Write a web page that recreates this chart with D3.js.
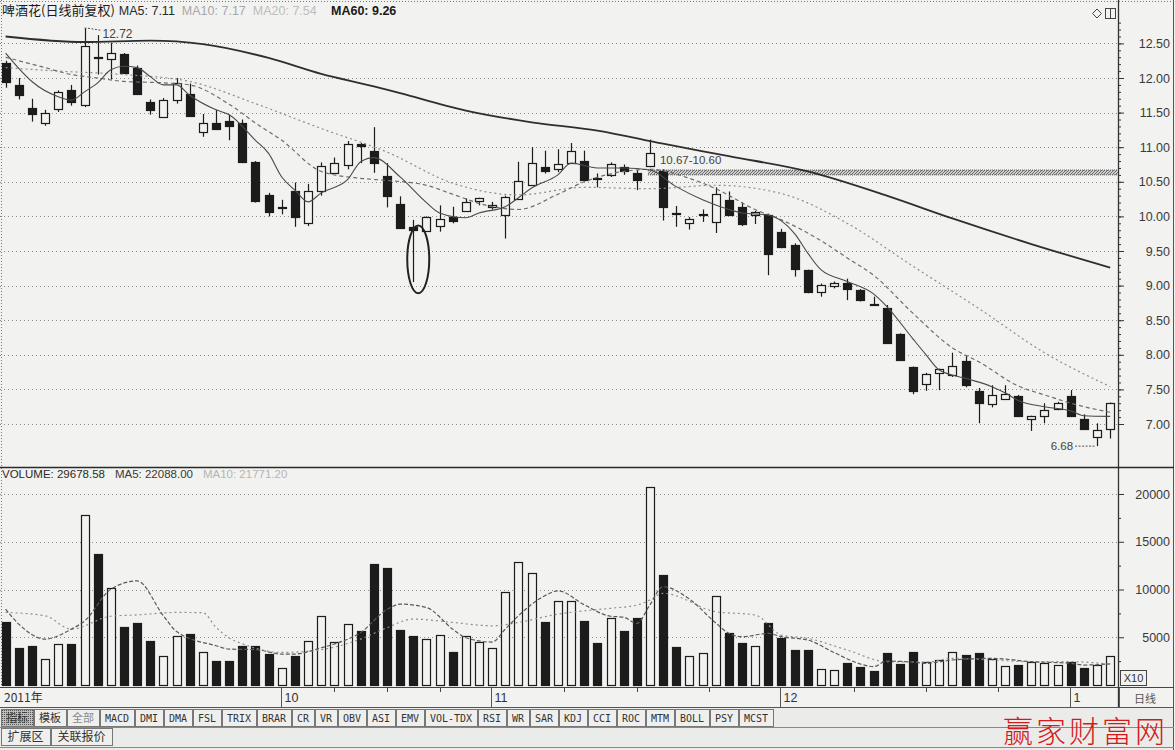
<!DOCTYPE html>
<html><head><meta charset="utf-8">
<script src="https://cdn.jsdelivr.net/npm/d3@7/dist/d3.min.js"></script>
<style>
html,body{margin:0;padding:0;background:#f2f2f0;}
svg{display:block;}
</style></head><body>
<svg id="chart" width="1175" height="750"></svg>
<script>
// ---------------- DATA ----------------
const dates = [
"2011-09-01","2011-09-02","2011-09-05","2011-09-06","2011-09-07","2011-09-08","2011-09-09","2011-09-13","2011-09-14","2011-09-15","2011-09-16","2011-09-19","2011-09-20","2011-09-21","2011-09-22","2011-09-23","2011-09-26","2011-09-27","2011-09-28","2011-09-29","2011-09-30",
"2011-10-10","2011-10-11","2011-10-12","2011-10-13","2011-10-14","2011-10-17","2011-10-18","2011-10-19","2011-10-20","2011-10-21","2011-10-24","2011-10-25","2011-10-26","2011-10-27","2011-10-28","2011-10-31",
"2011-11-01","2011-11-02","2011-11-03","2011-11-04","2011-11-07","2011-11-08","2011-11-09","2011-11-10","2011-11-11","2011-11-14","2011-11-15","2011-11-16","2011-11-17","2011-11-18","2011-11-21","2011-11-22","2011-11-23","2011-11-24","2011-11-25","2011-11-28","2011-11-29","2011-11-30",
"2011-12-01","2011-12-02","2011-12-05","2011-12-06","2011-12-07","2011-12-08","2011-12-09","2011-12-12","2011-12-13","2011-12-14","2011-12-15","2011-12-16","2011-12-19","2011-12-20","2011-12-21","2011-12-22","2011-12-23","2011-12-26","2011-12-27","2011-12-28","2011-12-29","2011-12-30",
"2012-01-04","2012-01-05","2012-01-06","2012-01-09"];

const openP  = [12.21,11.90,11.56,11.35,11.55,11.82,11.61,12.30,12.27,12.34,12.15,11.66,11.44,11.68,11.77,11.22,11.35,11.38,11.35,10.79,10.31,
10.11,10.37,9.91,10.37,10.63,10.74,11.05,10.95,10.58,10.18,9.84,9.79,9.86,9.99,10.08,10.21,
10.13,10.02,10.25,10.45,10.72,10.69,10.78,10.80,10.56,10.60,10.72,10.62,10.72,10.65,10.05,9.90,10.01,9.92,10.24,10.13,10.02,10.02,
9.78,9.58,9.22,8.91,8.99,9.04,8.93,8.74,8.67,8.30,7.82,7.58,7.73,7.71,7.91,7.47,7.29,7.36,7.40,7.07,7.11,7.21,
7.40,7.07,6.82,6.92];
const highP  = [12.25,12.00,11.70,11.54,11.82,11.90,12.72,12.62,12.51,12.36,12.18,11.69,11.71,12.00,11.92,11.48,11.54,11.47,11.40,10.80,10.34,
10.24,10.49,10.47,10.78,10.85,11.09,11.06,11.29,10.77,10.29,9.95,10.00,10.16,10.14,10.26,10.27,
10.21,10.30,10.79,11.00,10.95,10.97,11.06,10.95,10.62,10.78,10.75,10.67,11.11,10.68,10.15,9.99,10.10,10.42,10.36,10.20,10.08,10.04,
9.82,9.61,9.23,9.03,9.06,9.10,8.95,8.84,8.72,8.31,7.83,7.74,7.80,8.03,7.98,7.52,7.56,7.56,7.42,7.12,7.30,7.32,
7.49,7.14,7.01,7.31];
const lowP   = [11.86,11.69,11.37,11.31,11.51,11.60,11.58,12.05,11.98,12.06,11.76,11.47,11.43,11.63,11.44,11.15,11.26,11.10,10.77,10.20,10.00,
10.03,9.85,9.86,10.30,10.62,10.68,10.77,10.63,10.13,9.82,9.05,9.78,9.78,9.90,10.07,10.16,
10.10,9.68,10.24,10.44,10.62,10.64,10.77,10.52,10.42,10.57,10.60,10.38,10.71,9.94,9.85,9.81,9.92,9.76,10.02,9.86,9.89,9.15,
9.54,9.13,8.89,8.84,8.96,8.79,8.77,8.71,8.16,7.91,7.43,7.48,7.49,7.68,7.53,7.01,7.24,7.35,7.10,6.90,7.01,7.20,
7.10,6.92,6.68,6.79];
const closeP = [11.93,11.75,11.47,11.49,11.80,11.64,12.46,12.28,12.36,12.07,11.77,11.54,11.68,11.93,11.45,11.35,11.27,11.31,10.79,10.22,10.07,
10.13,10.00,10.37,10.73,10.77,11.04,11.02,10.77,10.29,9.83,9.79,9.99,9.96,9.93,10.21,10.26,
10.16,10.28,10.51,10.77,10.66,10.76,10.95,10.53,10.54,10.76,10.66,10.52,10.91,10.13,10.03,9.96,10.03,10.32,10.03,9.88,10.07,9.46,
9.56,9.24,8.90,9.01,9.04,8.95,8.78,8.72,8.17,7.93,7.47,7.72,7.79,7.84,7.56,7.30,7.42,7.43,7.11,7.11,7.20,7.30,
7.11,6.92,6.92,7.30];
const volume = [6550,3830,4040,2720,4290,4290,17770,13760,10170,6060,6480,4600,3070,5090,5330,3410,2540,2540,4110,4040,3240,
1780,3070,4630,7250,4460,6380,5610,12650,12300,5780,5160,4810,5260,3410,5160,4530,
3830,9760,12930,11780,6550,8820,8820,6750,4430,6980,5690,6980,20690,11510,4010,3040,3380,9350,5410,4360,4080,6460,
4890,3660,3660,1670,1570,2270,1920,1500,3310,2200,3420,2440,2620,3490,3140,3350,2720,2020,2090,2440,2300,2090,
2440,1750,2090,3000];

// moving-average curves: day index -> value
const ma5Days  = [0,1,2,4,5,6,7,8,9,10,11,12,13,14,16,17,19,20,21,22,23,24,26,27,28,30,32,33,35,36,38,39,40,42,43,45,47,49,51,53,55,56,58,60,61,62,64,66,67,69,70,71,73,75,76,77,79,81,82,84];
const ma5Vals  = [12.36,12.14,11.95,11.73,11.68,11.80,11.93,12.12,12.17,12.15,12.02,11.90,11.90,11.75,11.54,11.47,11.10,10.91,10.57,10.38,10.21,10.34,10.53,10.79,10.85,10.57,10.20,10.05,9.98,10.05,10.14,10.27,10.41,10.60,10.77,10.70,10.70,10.67,10.43,10.24,10.10,10.05,10.02,9.75,9.47,9.23,9.06,8.88,8.70,8.23,8.00,7.78,7.66,7.54,7.45,7.34,7.25,7.19,7.12,7.11];
const ma10Days = [0,3,5,7,9,12,14,17,19,21,24,27,29,32,34,37,39,42,44,47,49,52,54,57,59,62,64,66,69,72,74,77,79,82,84];
const ma10Vals = [12.30,12.15,12.05,12.00,11.95,11.93,11.90,11.62,11.35,11.10,10.65,10.55,10.52,10.45,10.32,10.14,10.10,10.32,10.50,10.65,10.68,10.55,10.40,10.10,9.95,9.65,9.40,9.15,8.60,8.10,7.90,7.55,7.42,7.25,7.17];
const ma20Days = [0,4,9,14,19,24,29,34,39,44,49,54,59,64,69,74,79,84];
const ma20Vals = [12.15,12.10,12.05,11.95,11.63,11.27,10.93,10.48,10.31,10.42,10.40,10.45,10.33,9.90,9.28,8.67,8.03,7.54];
const ma60Days = [0,6,11,15,20,24,28,30,35,40,45,50,55,61,67,72,78,84];
const ma60Vals = [12.60,12.52,12.54,12.49,12.29,12.06,11.88,11.78,11.53,11.36,11.24,11.05,10.87,10.65,10.30,9.97,9.60,9.26];
const volMa5Days  = [0,1,3,5,6,8,10,12,13,16,17,19,21,22,24,25,27,29,30,32,34,35,37,38,39,41,42,44,46,47,48,49,50,52,54,55,56,58,59,61,63,65,66,67,69,70,72,75,78,81,82,84];
const volMa5Vals  = [7940,6380,4810,5850,6700,10030,10900,7250,5600,4110,3760,3700,3240,3240,3900,4290,5500,7900,8470,8120,5850,4950,4500,5850,7250,9340,9860,8400,7200,7100,6460,8400,10290,9000,6500,5410,5060,5400,5060,4710,3400,2200,1920,2500,2400,2270,2620,2790,2440,2270,2090,2209];
const volMa10Days = [0,3,5,8,10,13,15,16,17,18,21,24,27,29,31,34,37,39,42,44,46,48,49,50,54,57,59,61,64,67,70,72,75,78,81,84];
const volMa10Vals = [7600,7250,5850,7200,7340,7600,7570,6050,4930,4320,3410,3700,4810,6000,6900,6550,6200,6550,7420,7770,8030,8370,8900,9600,7680,7330,5230,4890,3660,2440,2400,2790,2620,2440,2440,2177];

const priceTicks = [7.00,7.50,8.00,8.50,9.00,9.50,10.00,10.50,11.00,11.50,12.00,12.50];
const volTicks = [5000,10000,15000,20000];
const maxMark = {day:6, value:12.72};
const minMark = {day:83, value:6.68};
const bandLevels = [10.67,10.60];
const bandStartDay = 49;
const circledDay = 31;
const titleName = "啤酒花(日线前复权)";
const priceLegend = [["MA5: 7.11","#2a2a2a"],["MA10: 7.17","#a8a8a8"],["MA20: 7.54","#bdbdbd"]];
const ma60Legend = "MA60: 9.26";
const volLegend = [["VOLUME: 29678.58","#2a2a2a"],["MA5: 22088.00","#3a3a3a"],["MA10: 21771.20","#b5b5b5"]];
const tabLabels = ["指标","模板","全部","MACD","DMI","DMA","FSL","TRIX","BRAR","CR","VR","OBV","ASI","EMV","VOL-TDX","RSI","WR","SAR","KDJ","CCI","ROC","MTM","BOLL","PSY","MCST"];
const tabLabels2 = ["扩展区","关联报价"];
const periodLabel = "日线";
const volUnit = "X10";
const watermark = "赢家财富网";

// ---------------- DRAW ----------------
const svg = d3.select("#chart");
const BG = "#f2f2f0", INK = "#1c1c1c";
const AX = 1118;              // right axis x
const N = dates.length;
const CJK = "'Noto Sans CJK SC','Noto Sans',sans-serif";
const LAT = "'Liberation Sans',Arial,sans-serif";

const x  = d3.scaleLinear().domain([0, N-1]).range([5.6, 1110.2]);
const y  = d3.scaleLinear().domain([7, 12.5]).range([424, 43.4]);
const yv = d3.scaleLinear().domain([0, 20000]).range([685, 494]);

svg.append("rect").attr("width",1175).attr("height",750).attr("fill",BG);

const defs = svg.append("defs");
defs.append("clipPath").attr("id","clipP").append("rect").attr("x",0).attr("y",18).attr("width",AX).attr("height",449);
defs.append("clipPath").attr("id","clipV").append("rect").attr("x",0).attr("y",482).attr("width",AX).attr("height",205);
const hp = defs.append("pattern").attr("id","hatch").attr("patternUnits","userSpaceOnUse").attr("width",3).attr("height",3);
hp.append("rect").attr("width",3).attr("height",3).attr("fill","#cfcfcf");
hp.append("path").attr("d","M0,3L3,0").attr("stroke","#6a6a6a").attr("stroke-width",1);
const tp = defs.append("pattern").attr("id","tabhatch").attr("patternUnits","userSpaceOnUse").attr("width",2).attr("height",2);
tp.append("rect").attr("width",2).attr("height",2).attr("fill","#bdbdbd");
tp.append("rect").attr("width",1).attr("height",1).attr("fill","#555");

// frame lines
svg.append("line").attr("x1",0).attr("x2",1173).attr("y1",1.5).attr("y2",1.5).attr("stroke","#777").attr("stroke-dasharray","1,2");
svg.append("line").attr("x1",1.5).attr("x2",1.5).attr("y1",0).attr("y2",687).attr("stroke","#777").attr("stroke-dasharray","1,2");
svg.append("line").attr("x1",AX+.5).attr("x2",AX+.5).attr("y1",0).attr("y2",708).attr("stroke","#333").attr("stroke-width",1.3);
svg.append("line").attr("x1",1173.5).attr("x2",1173.5).attr("y1",0).attr("y2",750).attr("stroke","#555");
svg.append("line").attr("x1",0).attr("x2",1174).attr("y1",467.5).attr("y2",467.5).attr("stroke","#2a2a2a").attr("stroke-width",1.6);
svg.append("line").attr("x1",0).attr("x2",1174).attr("y1",687.5).attr("y2",687.5).attr("stroke","#444");
svg.append("line").attr("x1",0).attr("x2",1174).attr("y1",707.5).attr("y2",707.5).attr("stroke","#555");

// grid
svg.append("g").selectAll("line").data(priceTicks).join("line")
  .attr("x1",0).attr("x2",AX).attr("y1",d=>Math.round(y(d))+.5).attr("y2",d=>Math.round(y(d))+.5)
  .attr("stroke","#8c8c8c").attr("stroke-dasharray","1,3");
svg.append("g").selectAll("line").data(volTicks).join("line")
  .attr("x1",0).attr("x2",AX).attr("y1",d=>Math.round(yv(d))+.5).attr("y2",d=>Math.round(yv(d))+.5)
  .attr("stroke","#8c8c8c").attr("stroke-dasharray","1,3");

// axes
function styleAxis(g){
  g.select(".domain").remove();
  g.selectAll("line").attr("stroke","#333");
  g.selectAll("text").attr("text-anchor","end").attr("x",52).attr("fill","#3a3a3a")
   .style("font-family",LAT).style("font-size","12.5px");
}
const minorP = d3.range(70,129).map(v=>v/10);
svg.append("g").attr("transform",`translate(${AX},0)`).call(d3.axisRight(y).tickValues(minorP).tickSize(3).tickFormat("")).call(styleAxis);
svg.append("g").attr("transform",`translate(${AX},0)`).call(d3.axisRight(y).tickValues(priceTicks).tickSize(6).tickFormat(d3.format(".2f"))).call(styleAxis);
svg.append("g").attr("transform",`translate(${AX},0)`).call(d3.axisRight(yv).tickValues([2500,7500,12500,17500]).tickSize(3).tickFormat("")).call(styleAxis);
svg.append("g").attr("transform",`translate(${AX},0)`).call(d3.axisRight(yv).tickValues(volTicks).tickSize(6).tickFormat(d3.format("d"))).call(styleAxis);

// headers
const h1 = svg.append("text").attr("x",2).attr("y",15).style("font-size","12.5px");
h1.append("tspan").text(titleName).attr("fill","#1a1a1a").style("font-family",CJK).style("font-size","13px");
priceLegend.forEach(([t,c],k)=>h1.append("tspan").attr("dx",k?7:4).text(t).attr("fill",c).style("font-family",LAT));
svg.append("text").attr("x",331).attr("y",15).text(ma60Legend).attr("fill","#1a1a1a")
  .style("font-family",LAT).style("font-size","12.5px").style("font-weight","bold");
const h2 = svg.append("text").attr("x",2).attr("y",478).style("font-size","11.5px").style("font-family",LAT);
volLegend.forEach(([t,c],k)=>h2.append("tspan").attr("dx",k?10:0).text(t).attr("fill",c));
// top-right icons
svg.append("path").attr("d","M1097,9L1101.5,13.5L1097,18L1092.5,13.5Z").attr("fill","none").attr("stroke","#444");
svg.append("rect").attr("x",1105.5).attr("y",8.5).attr("width",10).attr("height",10).attr("fill","none").attr("stroke","#444");
svg.append("line").attr("x1",1110.5).attr("x2",1110.5).attr("y1",8.5).attr("y2",18.5).attr("stroke","#444");

// ---- price pane ----
const pg = svg.append("g").attr("clip-path","url(#clipP)");
// band
const bx = x(bandStartDay)-2;
pg.append("rect").attr("x",bx).attr("width",AX-bx).attr("y",y(bandLevels[0])).attr("height",y(bandLevels[1])-y(bandLevels[0]))
  .attr("fill","url(#hatch)");
bandLevels.forEach(v=>pg.append("line").attr("x1",bx).attr("x2",AX).attr("y1",y(v)).attr("y2",y(v))
  .attr("stroke","#555").attr("stroke-dasharray","1,1"));
pg.append("text").attr("x",x(bandStartDay)+10).attr("y",y(bandLevels[0])-6).text(bandLevels.map(v=>v.toFixed(2)).join("-"))
  .attr("fill","#444").style("font-family",LAT).style("font-size","11.5px");

const idx = d3.range(N);
pg.selectAll("line.wick").data(idx).join("line").attr("class","wick")
  .attr("x1",i=>Math.round(x(i))+.5).attr("x2",i=>Math.round(x(i))+.5)
  .attr("y1",i=>y(highP[i])).attr("y2",i=>y(lowP[i]))
  .attr("stroke",INK).attr("stroke-width",1.2);
pg.selectAll("rect.body").data(idx).join("rect").attr("class","body")
  .attr("x",i=>Math.round(x(i))-4+.5).attr("width",8)
  .attr("y",i=>Math.round(y(Math.max(openP[i],closeP[i])))+.5)
  .attr("height",i=>Math.max(1,Math.round(Math.abs(y(openP[i])-y(closeP[i])))))
  .attr("fill",i=>closeP[i]<openP[i]?INK:BG)
  .attr("stroke",INK).attr("stroke-width",1.2);

function pts(days, vals){ return days.map((d,k)=>[d, vals[k]]); }
const lineP = d3.line().x(d=>x(d[0])).y(d=>y(d[1])).curve(d3.curveMonotoneX);
pg.append("path").attr("d",lineP(pts(ma20Days,ma20Vals))).attr("fill","none").attr("stroke","#8e8e8e").attr("stroke-width",1.2).attr("stroke-dasharray","2,3");
pg.append("path").attr("d",lineP(pts(ma10Days,ma10Vals))).attr("fill","none").attr("stroke","#6e6e6e").attr("stroke-width",1.2).attr("stroke-dasharray","4,3");
pg.append("path").attr("d",lineP(pts(ma5Days,ma5Vals))).attr("fill","none").attr("stroke","#4a4a4a").attr("stroke-width",1.1);
pg.append("path").attr("d",lineP(pts(ma60Days,ma60Vals))).attr("fill","none").attr("stroke","#2e2e2e").attr("stroke-width",1.8);

// max / min marks
const mxX = x(maxMark.day), mxY = y(maxMark.value);
pg.append("path").attr("d",`M${mxX},${mxY}L${mxX+3},${mxY}L${mxX+16},${mxY+2}`).attr("fill","none").attr("stroke","#555").attr("stroke-dasharray","2,1.5");
pg.append("text").attr("x",mxX+18).attr("y",mxY+10).text(maxMark.value.toFixed(2)).attr("fill","#444")
  .style("font-family",LAT).style("font-size","12px");
const mnX = x(minMark.day), mnY = y(minMark.value);
pg.append("line").attr("x1",mnX-22).attr("x2",mnX-1).attr("y1",mnY).attr("y2",mnY).attr("stroke","#555").attr("stroke-dasharray","2,1.5");
pg.append("text").attr("x",mnX-24).attr("y",mnY+4).attr("text-anchor","end").text(minMark.value.toFixed(2)).attr("fill","#444")
  .style("font-family",LAT).style("font-size","11.5px");

// ellipse annotation
const ey0 = y(lowP[circledDay]-0.16), ey1 = y(highP[circledDay]-0.08);
pg.append("ellipse").attr("cx",x(circledDay)+5).attr("cy",(ey0+ey1)/2).attr("rx",11).attr("ry",(ey0-ey1)/2)
  .attr("fill","none").attr("stroke","#222").attr("stroke-width",2);

// ---- volume pane ----
const vg = svg.append("g").attr("clip-path","url(#clipV)");
vg.selectAll("rect.vbar").data(idx).join("rect").attr("class","vbar")
  .attr("x",i=>Math.round(x(i))-4+.5).attr("width",8)
  .attr("y",i=>Math.round(yv(volume[i]))+.5)
  .attr("height",i=>Math.round(yv(0))-Math.round(yv(volume[i])))
  .attr("fill",i=>closeP[i]<openP[i]?INK:BG)
  .attr("stroke",INK).attr("stroke-width",1.2);
const lineV = d3.line().x(d=>x(d[0])).y(d=>yv(d[1])).curve(d3.curveMonotoneX);
vg.append("path").attr("d",lineV(pts(volMa10Days,volMa10Vals))).attr("fill","none").attr("stroke","#8e8e8e").attr("stroke-width",1.2).attr("stroke-dasharray","2,3");
vg.append("path").attr("d",lineV(pts(volMa5Days,volMa5Vals))).attr("fill","none").attr("stroke","#5a5a5a").attr("stroke-width",1.2).attr("stroke-dasharray","4,2");
svg.append("rect").attr("x",1120.5).attr("y",670.5).attr("width",26).attr("height",15).attr("fill",BG).attr("stroke","#444");
svg.append("text").attr("x",1133.5).attr("y",682).attr("text-anchor","middle").text(volUnit).attr("fill","#333")
  .style("font-family",LAT).style("font-size","11px");

// ---- date row ----
const monthStarts = idx.filter(i=>i>0 && dates[i].slice(5,7)!==dates[i-1].slice(5,7));
const dg = svg.append("g");
dg.append("text").attr("x",4).attr("y",702).text(dates[0].slice(0,4)+"年").attr("fill","#333")
  .style("font-family",CJK).style("font-size","12px");
monthStarts.forEach((s,k)=>{
  const xs = Math.round(x(s))-0.5;
  dg.append("line").attr("x1",xs).attr("x2",xs).attr("y1",688).attr("y2",707).attr("stroke","#555");
  dg.append("text").attr("x",xs+3).attr("y",702).text(String(+dates[s].slice(5,7))).attr("fill","#333")
    .style("font-family",LAT).style("font-size","12.5px");
  if (k+1 < monthStarts.length){
    const e = monthStarts[k+1];
    [1,2,3].forEach(q=>{
      const xt = Math.round(x(s+(e-s)*q/4))+.5;
      dg.append("line").attr("x1",xt).attr("x2",xt).attr("y1",688).attr("y2",692).attr("stroke","#444");
    });
  }
});
dg.append("line").attr("x1",1119.5).attr("x2",1119.5).attr("y1",688).attr("y2",707).attr("stroke","#555");
dg.append("text").attr("x",1145).attr("y",703).attr("text-anchor","middle").text(periodLabel).attr("fill","#555")
  .style("font-family",CJK).style("font-size","11px");

// ---- tab rows ----
const tg = svg.append("g");
tg.append("rect").attr("x",0).attr("y",708).attr("width",1173).attr("height",42).attr("fill","#ebebea");
function tabRow(labels, yTop, cjkSize, pad){
  let tx = 1;
  labels.forEach((t,k)=>{
    const isCJK = /[\u4e00-\u9fff]/.test(t);
    const r = tg.append("rect");
    const tt = tg.append("text").attr("x",tx+pad/2).attr("y",yTop+13).text(t)
      .attr("fill", (yTop<720 && k===2) ? "#8a8a8a" : "#333")
      .style("font-family", isCJK ? CJK : "'DejaVu Sans Mono',monospace")
      .style("font-size", isCJK ? cjkSize : "10px");
    const w = Math.round(tt.node().getComputedTextLength()) + pad;
    r.attr("x",tx+.5).attr("y",yTop+.5).attr("width",w).attr("height",17)
      .attr("fill", (yTop<720 && k===0) ? "url(#tabhatch)" : "#efefee").attr("stroke","#777");
    tx += w + 1;
  });
}
tabRow(tabLabels, 709, "11px", 10);
tabRow(tabLabels2, 728, "12px", 13);
tg.append("line").attr("x1",0).attr("x2",1174).attr("y1",727.5).attr("y2",727.5).attr("stroke","#888");
tg.append("line").attr("x1",0).attr("x2",1174).attr("y1",747.5).attr("y2",747.5).attr("stroke","#888");

// watermark
svg.append("text").attr("x",1003).attr("y",742).text(watermark).attr("fill","#d21c1c")
  .style("font-family",CJK).style("font-size","30px").style("font-weight","300").style("letter-spacing","3px");
</script>
</body></html>
